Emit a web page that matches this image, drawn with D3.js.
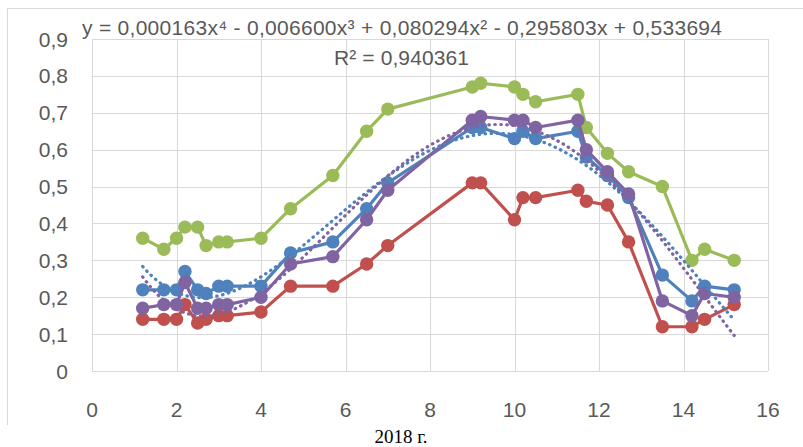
<!DOCTYPE html>
<html>
<head>
<meta charset="utf-8">
<script src="https://cdn.jsdelivr.net/npm/d3@7"></script>
<style>
  body { margin: 0; background: #fff; }
  svg { display: block; }
</style>
</head>
<body>
<svg id="area" width="803" height="447"></svg>
<script>
// days (x values) shared by all series
const xs = [1.2, 1.7, 2.0, 2.2, 2.5, 2.7, 3.0, 3.2, 4.0, 4.7, 5.7, 6.5, 7.0,
  9.0, 9.2, 10.0, 10.2, 10.5, 11.5, 11.7, 12.2, 12.7, 13.5, 14.2, 14.5, 15.2];

const blueVals = [0.22, 0.22, 0.22, 0.27, 0.22, 0.21, 0.23, 0.23, 0.23, 0.32, 0.35, 0.44, 0.51,
  0.66, 0.66, 0.63, 0.65, 0.63, 0.65, 0.58, 0.53, 0.47, 0.26, 0.19, 0.23, 0.22];
const redVals = [0.14, 0.14, 0.14, 0.18, 0.13, 0.14, 0.15, 0.15, 0.16, 0.23, 0.23, 0.29, 0.34,
  0.51, 0.51, 0.41, 0.47, 0.47, 0.49, 0.46, 0.45, 0.35, 0.12, 0.12, 0.14, 0.18];
const greenVals = [0.36, 0.33, 0.36, 0.39, 0.39, 0.34, 0.35, 0.35, 0.36, 0.44, 0.53, 0.65, 0.71,
  0.77, 0.78, 0.77, 0.75, 0.73, 0.75, 0.66, 0.59, 0.54, 0.50, 0.30, 0.33, 0.30];
const purpleVals = [0.17, 0.18, 0.18, 0.24, 0.17, 0.17, 0.18, 0.18, 0.20, 0.29, 0.31, 0.41, 0.49,
  0.68, 0.69, 0.68, 0.68, 0.66, 0.68, 0.60, 0.54, 0.48, 0.19, 0.15, 0.21, 0.20];

const xTicks = [0, 2, 4, 6, 8, 10, 12, 14, 16];
const yTicks = [0, 0.1, 0.2, 0.3, 0.4, 0.5, 0.6, 0.7, 0.8, 0.9];

const equationText = 'y = 0,000163x⁴ - 0,006600x³ + 0,080294x² - 0,295803x + 0,533694';
const r2Text = 'R² = 0,940361';
const xTitle = '2018 г.';

const series = [
  { name: 'blue', values: blueVals, color: '#4f81bd', trend: true },
  { name: 'red', values: redVals, color: '#c0504d', trend: false },
  { name: 'green', values: greenVals, color: '#9bbb59', trend: false },
  { name: 'purple', values: purpleVals, color: '#8064a2', trend: true },
];

// least squares polynomial, like excel's trendline
function polyFit(x, y, order) {
  const n = order + 1;
  const A = Array.from({ length: n }, () => new Array(n + 1).fill(0));
  for (let i = 0; i < x.length; i++) {
    for (let r = 0; r < n; r++) {
      for (let c = 0; c < n; c++) A[r][c] += Math.pow(x[i], r + c);
      A[r][n] += y[i] * Math.pow(x[i], r);
    }
  }
  for (let c = 0; c < n; c++) {
    let p = c;
    for (let r = c + 1; r < n; r++) if (Math.abs(A[r][c]) > Math.abs(A[p][c])) p = r;
    [A[c], A[p]] = [A[p], A[c]];
    for (let r = 0; r < n; r++) {
      if (r === c) continue;
      const f = A[r][c] / A[c][c];
      for (let k = c; k <= n; k++) A[r][k] -= f * A[c][k];
    }
  }
  return A.map((row, i) => row[n] / row[i]);
}

const svg = d3.select('#area');
const margin = { left: 92, right: 35, top: 39, bottom: 76 };
const width = 803 - margin.left - margin.right;
const height = 447 - margin.top - margin.bottom;

const x = d3.scaleLinear([0, 16], [margin.left, margin.left + width]);
const y = d3.scaleLinear([0, 0.9], [margin.top + height, margin.top]);

const fmt = (d) => d3.format('.1f')(d).replace('.', ',');
const labelFont = '21px "Liberation Sans", Arial, sans-serif';

// outer frame
svg.append('path')
  .attr('d', 'M7.5,425V8.5H803')
  .attr('fill', 'none')
  .attr('stroke', '#d9d9d9');

// grid
const grid = svg.append('g').attr('stroke', '#d9d9d9').attr('stroke-width', 1);
grid.selectAll('.h')
  .data(yTicks)
  .join('line')
  .attr('x1', x(0))
  .attr('x2', x(16))
  .attr('y1', (d) => Math.round(y(d)) + 0.5)
  .attr('y2', (d) => Math.round(y(d)) + 0.5);
grid.selectAll('.v')
  .data(xTicks)
  .join('line')
  .attr('class', 'v')
  .attr('y1', y(0))
  .attr('y2', y(0.9))
  .attr('x1', (d) => Math.round(x(d)) + 0.5)
  .attr('x2', (d) => Math.round(x(d)) + 0.5);

// axes labels
svg.append('g')
  .selectAll('text')
  .data(yTicks)
  .join('text')
  .attr('x', 68)
  .attr('y', (d) => y(d) + 7.5)
  .attr('text-anchor', 'end')
  .style('font', labelFont)
  .style('fill', '#595959')
  .text((d) => (d === 0 ? '0' : fmt(d)));

svg.append('g')
  .selectAll('text')
  .data(xTicks)
  .join('text')
  .attr('x', (d) => x(d))
  .attr('y', 417)
  .attr('text-anchor', 'middle')
  .style('font', labelFont)
  .style('fill', '#595959')
  .text((d) => d);

// series lines and markers
const line = d3.line()
  .x((d) => x(d[0]))
  .y((d) => y(d[1]));

series.forEach((s) => {
  const pts = xs.map((v, i) => [v, s.values[i]]);
  const g = svg.append('g');
  g.append('path')
    .attr('d', line(pts))
    .attr('fill', 'none')
    .attr('stroke', s.color)
    .attr('stroke-width', 3.2)
    .attr('stroke-linejoin', 'round');
  g.selectAll('circle')
    .data(pts)
    .join('circle')
    .attr('cx', (d) => x(d[0]))
    .attr('cy', (d) => y(d[1]))
    .attr('r', 6.7)
    .attr('fill', s.color);
});

// dotted polynomial trendlines
series.filter((s) => s.trend).forEach((s) => {
  const c = polyFit(xs, s.values, 4);
  const f = (t) => c.reduce((acc, k, i) => acc + k * Math.pow(t, i), 0);
  const xsFine = d3.range(xs[0], xs[xs.length - 1] + 0.001, 0.05);
  svg.append('path')
    .attr('d', line(xsFine.map((t) => [t, f(t)])))
    .attr('fill', 'none')
    .attr('stroke', s.color)
    .attr('stroke-width', 3.2)
    .attr('stroke-linecap', 'round')
    .attr('stroke-dasharray', '0.5 5.5');
});

// trendline label
svg.append('text')
  .attr('x', 82)
  .attr('y', 35)
  .attr('textLength', 640)
  .style('font', labelFont)
  .style('fill', '#595959')
  .text(equationText);
svg.append('text')
  .attr('x', 334)
  .attr('y', 65)
  .attr('textLength', 135)
  .style('font', labelFont)
  .style('fill', '#595959')
  .text(r2Text);

// x title
svg.append('text')
  .attr('x', 401)
  .attr('y', 443)
  .attr('text-anchor', 'middle')
  .style('font', '19px "Liberation Serif", "Times New Roman", serif')
  .style('fill', '#000')
  .text(xTitle);
</script>
</body>
</html>
